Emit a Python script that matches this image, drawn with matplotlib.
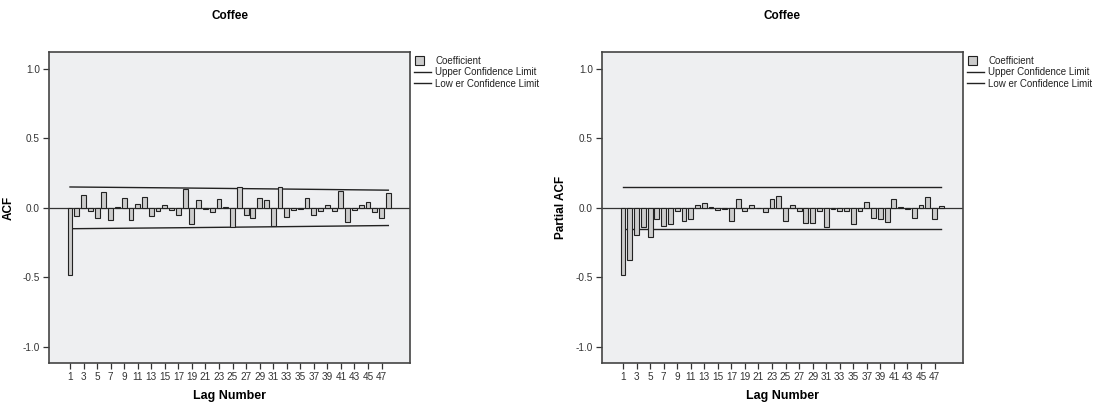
import matplotlib.pyplot as plt
import matplotlib.patches as mpatches
from matplotlib.legend_handler import HandlerPatch
import numpy as np

plt.rcParams['font.family'] = ['Liberation Sans', 'DejaVu Sans']

lags = list(range(1, 49))
lag_ticks = list(range(1, 48, 2))

acf_values = [-0.483, -0.055, 0.091, -0.024, -0.076, 0.112, -0.084, 0.008,
              0.069, -0.088, 0.026, 0.081, -0.060, -0.020, 0.024, -0.012,
              -0.048, 0.134, -0.117, 0.053, -0.005, -0.029, 0.060, 0.004,
              -0.141, 0.150, -0.053, -0.076, 0.074, 0.053, -0.134, 0.150,
              -0.067, -0.019, -0.010, 0.069, -0.048, -0.026, 0.022, -0.026,
              0.124, -0.100, -0.017, 0.024, 0.041, -0.033, -0.072, 0.110]

pacf_values = [-0.485, -0.375, -0.198, -0.136, -0.210, -0.079, -0.131, -0.119,
               -0.026, -0.098, -0.081, 0.024, 0.036, 0.005, -0.017, -0.006,
               -0.093, 0.060, -0.024, 0.017, -0.004, -0.029, 0.067, 0.084,
               -0.096, 0.019, -0.022, -0.108, -0.112, -0.022, -0.136, -0.005,
               -0.022, -0.022, -0.115, -0.024, 0.045, -0.072, -0.081, -0.105,
               0.067, 0.004, -0.005, -0.076, 0.017, 0.081, -0.079, 0.012]

# confidence limits read at a few lags
acf_limit_lags = [1, 17, 33, 48]
acf_upper = [0.150, 0.143, 0.135, 0.127]
acf_lower = [-0.150, -0.143, -0.135, -0.127]
pacf_limit_lags = [1, 48]
pacf_upper = [0.150, 0.150]
pacf_lower = [-0.150, -0.150]


def square_patch(legend, orig_handle, xdescent, ydescent, width, height, fontsize):
    # square swatch like the SPSS legend
    side = height * 1.35
    return mpatches.Rectangle((xdescent + 1.0, ydescent + (height - side) / 2), side, side)


fig = plt.figure(figsize=(11.17, 4.07), dpi=100)

panels = [
    (49, acf_values, acf_limit_lags, acf_upper, acf_lower, 'ACF', 15),
    (602, pacf_values, pacf_limit_lags, pacf_upper, pacf_lower, 'Partial ACF', 567),
]

for left_px, values, lim_lags, upper, lower, ylabel, label_px in panels:
    ax = fig.add_axes([left_px / 1117, 1 - 363 / 407, 361 / 1117, 311 / 407])
    ax.set_facecolor('#eeeff1')
    ax.bar(lags, values, width=0.72, color='#cccccc', edgecolor='#222222', linewidth=0.8, zorder=3)
    up_line, = ax.plot(lim_lags, upper, color='#222222', linewidth=1.0, zorder=2)
    low_line, = ax.plot(lim_lags, lower, color='#222222', linewidth=1.0, zorder=2)
    ax.axhline(0, color='#333333', linewidth=0.9, zorder=2)

    ax.set_xlim(-2.1, 51.2)
    ax.set_ylim(-1.115, 1.12)
    ax.set_xticks(lag_ticks)
    ax.set_xticklabels([str(t) for t in lag_ticks], fontsize=7.2, color='#333333')
    ax.set_yticks([-1.0, -0.5, 0.0, 0.5, 1.0])
    ax.set_yticklabels(['-1.0', '-0.5', '0.0', '0.5', '1.0'], fontsize=7.2, color='#333333')
    ax.tick_params(axis='both', direction='out', length=4.5, width=0.9, color='#333333', pad=2)
    for s in ax.spines.values():
        s.set_color('#444444')
        s.set_linewidth(1.2)

    ax.set_title('Coffee', fontsize=8.5, fontweight='bold', pad=24)
    ax.set_xlabel('Lag Number', fontsize=9, fontweight='bold', labelpad=6)
    ax.set_ylabel(ylabel, fontsize=8.5, fontweight='bold')
    ax.yaxis.set_label_coords((label_px - left_px) / 361, 0.5)

    swatch = mpatches.Patch(facecolor='#cccccc', edgecolor='#222222', linewidth=0.8)
    leg = ax.legend([swatch, up_line, low_line],
                    ['Coefficient', 'Upper Confidence Limit', 'Low er Confidence Limit'],
                    handler_map={mpatches.Patch: HandlerPatch(patch_func=square_patch)},
                    loc='upper left', bbox_to_anchor=(1.0, 1.0), frameon=False, fontsize=7,
                    handlelength=1.8, handletextpad=0.4, labelspacing=0.15, borderaxespad=0.3,
                    borderpad=0.1)
    for txt in leg.get_texts():
        txt.set_color('#222222')

fig.savefig('out.png', dpi=100)
